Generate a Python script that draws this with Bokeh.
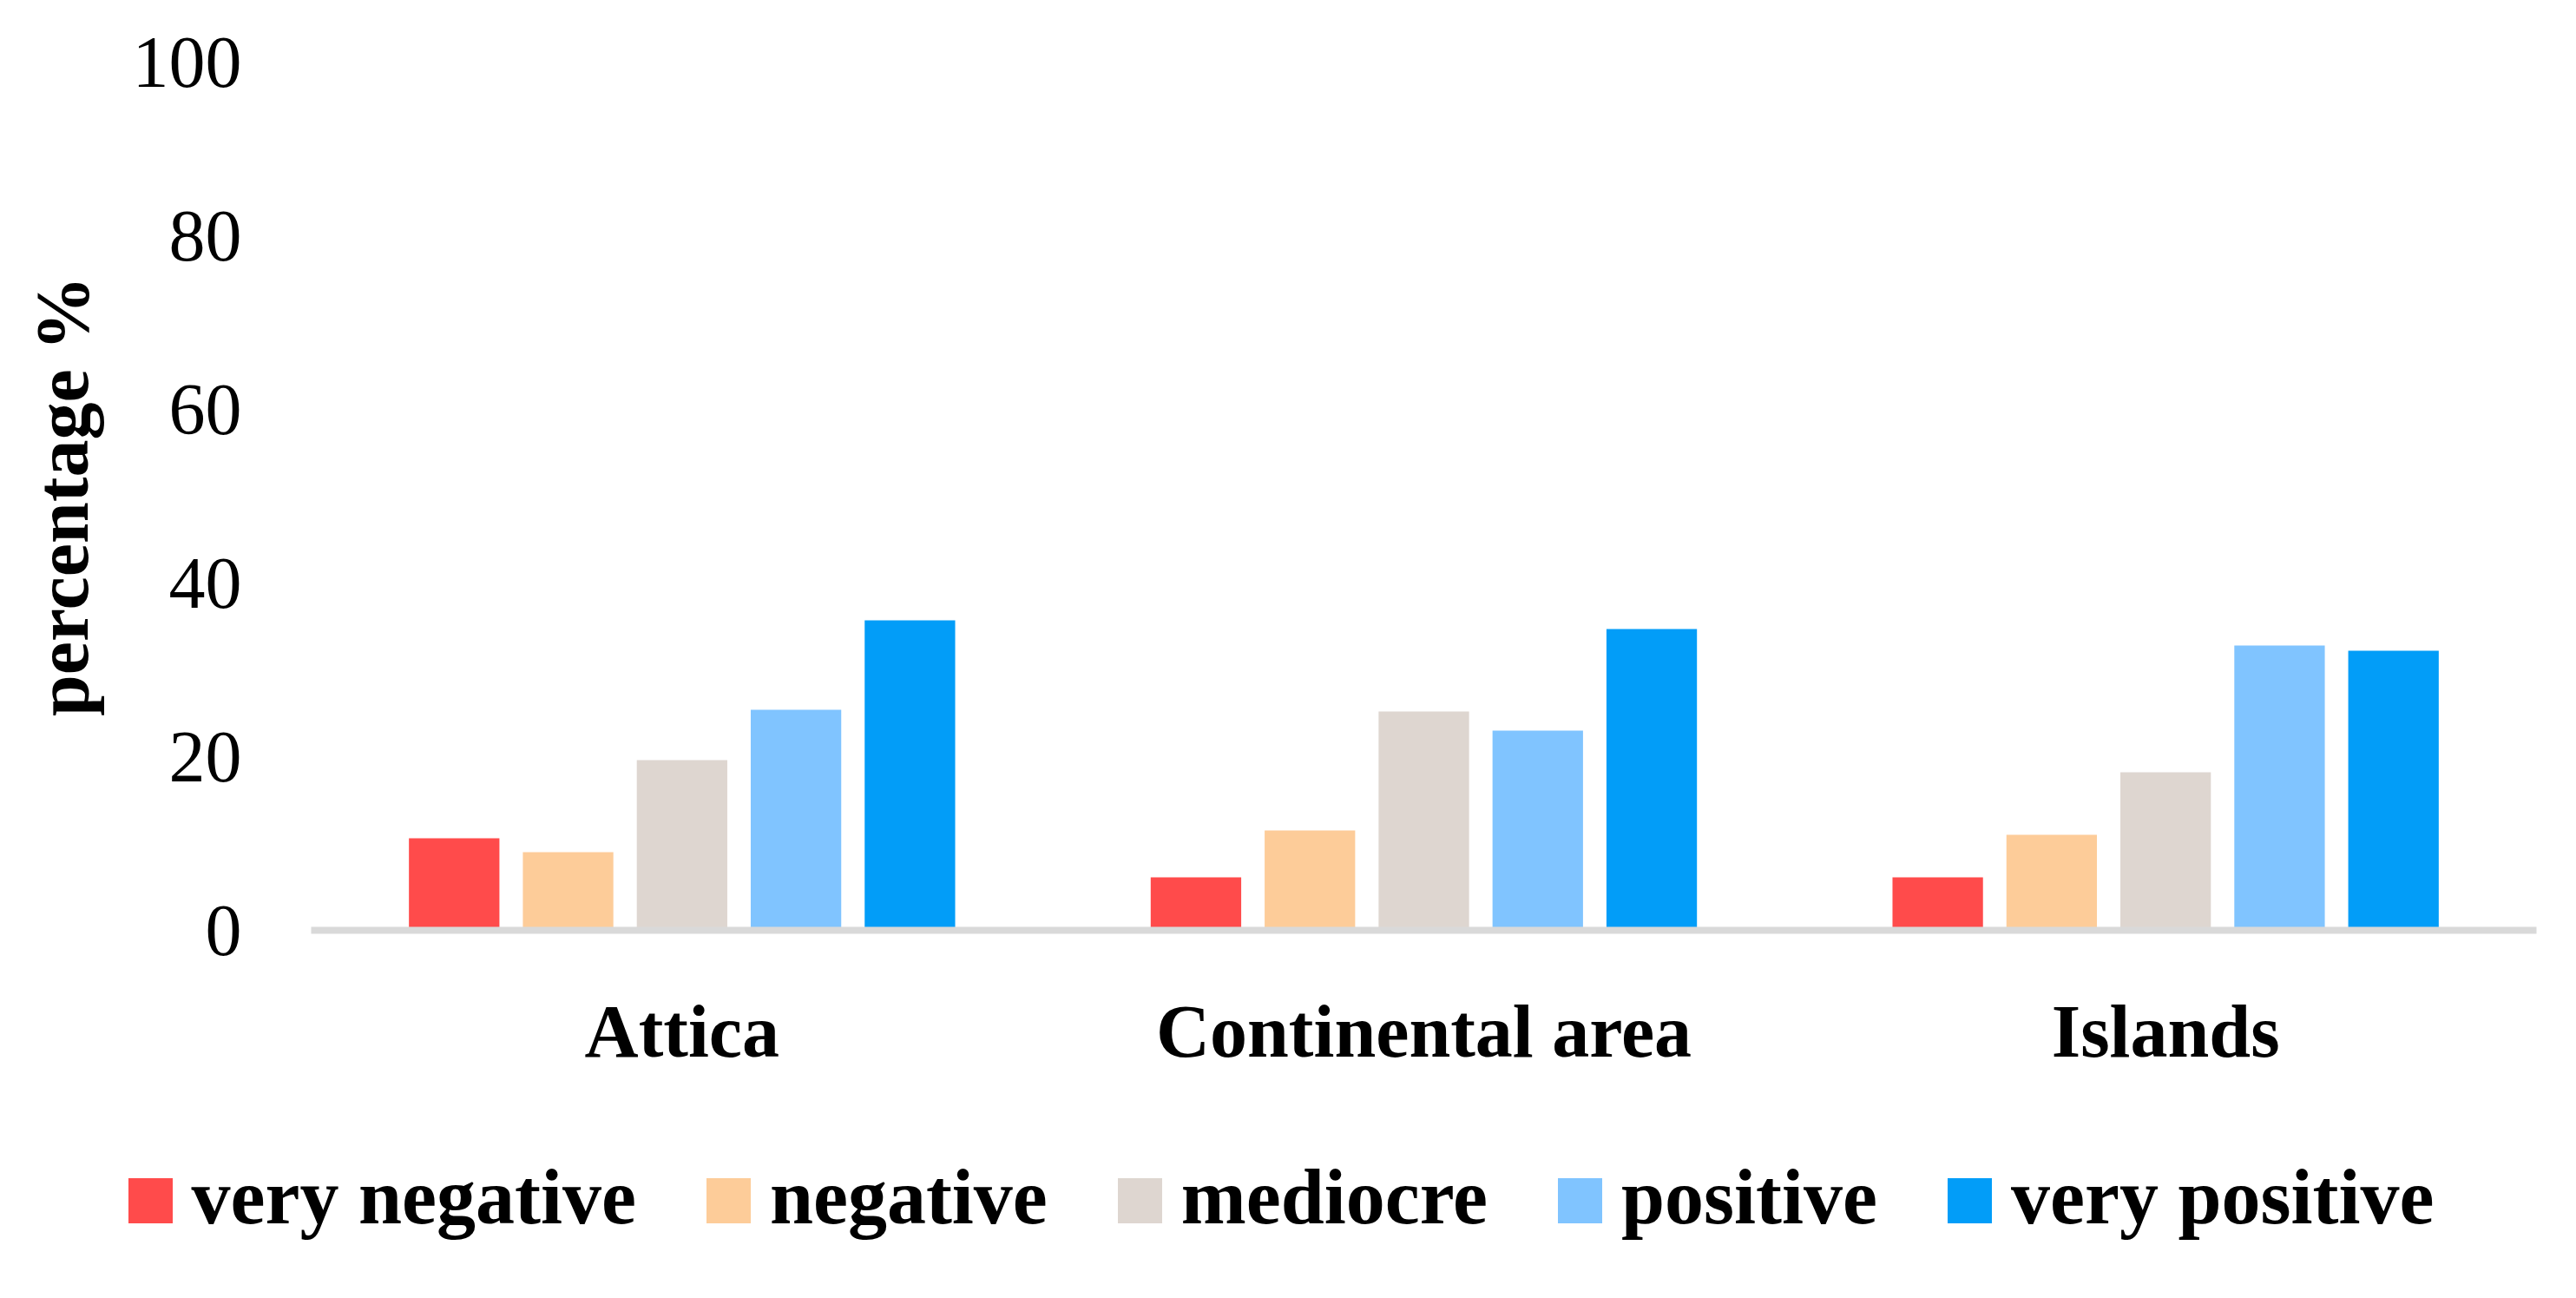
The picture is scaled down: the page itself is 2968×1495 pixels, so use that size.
from bokeh.plotting import figure
from bokeh.layouts import column
from bokeh.models import ColumnDataSource, Range1d, FactorRange, FixedTicker, Div
from bokeh.transform import dodge
from bokeh.embed import file_html
from bokeh.resources import INLINE

regions = ["Attica", "Continental area", "Islands"]
series_names = ["very negative", "negative", "mediocre", "positive", "very positive"]
very_negative = [10.6, 6.1, 6.1]
negative = [9.0, 11.5, 11.0]
mediocre = [19.6, 25.2, 18.2]
positive = [25.4, 23.0, 32.8]
very_positive = [35.7, 34.7, 32.2]
y_ticks = [0, 20, 40, 60, 80, 100]
colors = ["#FF4B4B", "#FDCC99", "#DED6D0", "#80C4FF", "#029DF8"]

keys = ["vneg", "neg", "med", "pos", "vpos"]
source = ColumnDataSource(dict(region=regions, vneg=very_negative, neg=negative,
                               med=mediocre, pos=positive, vpos=very_positive))

FONT = "Liberation Serif"
W = 2952
H_MAIN = 1290
H_LEG = 189

p = figure(x_range=FactorRange(*regions, range_padding=0), y_range=Range1d(0, 100),
           width=W, height=H_MAIN, output_backend="svg", toolbar_location=None,
           min_border_left=358, min_border_right=30, min_border_top=71, min_border_bottom=H_MAIN - 1071)

step = 0.1536
bw = 0.122
for i, k in enumerate(keys):
    p.vbar(x=dodge("region", (i - 2) * step, range=p.x_range), top=k, width=bw,
           source=source, fill_color=colors[i], line_color=None, legend_label=series_names[i])

p.legend.visible = False
p.xgrid.visible = False
p.ygrid.visible = False
p.outline_line_color = None
p.background_fill_color = "white"
p.border_fill_color = "white"

# x axis
p.xaxis.axis_line_color = "#D9D9D9"
p.xaxis.axis_line_width = 8
p.xaxis.major_tick_line_color = None
p.xaxis.minor_tick_line_color = None
p.xaxis.major_label_text_font = FONT
p.xaxis.major_label_text_font_style = "bold"
p.xaxis.major_label_text_font_size = "86px"
p.xaxis.major_label_text_color = "black"
p.xaxis.major_label_standoff = 62

# y axis
p.yaxis.ticker = FixedTicker(ticks=y_ticks)
p.yaxis.axis_line_color = None
p.yaxis.major_tick_line_color = None
p.yaxis.minor_tick_line_color = None
p.yaxis.major_label_text_font = FONT
p.yaxis.major_label_text_font_size = "84px"
p.yaxis.major_label_text_color = "black"
p.yaxis.major_label_standoff = 74
p.yaxis.axis_label = "percentage %"
p.yaxis.axis_label_text_font = FONT
p.yaxis.axis_label_text_font_style = "bold"
p.yaxis.axis_label_text_font_size = "86px"
p.yaxis.axis_label_text_color = "black"
p.yaxis.axis_label_standoff = 30

# legend strip below the chart (HTML text)
items_html = "".join(
    '<span style="white-space:nowrap;margin:0 {m}px 0 0;">'
    '<span style="display:inline-block;width:51px;height:52px;background:{c};'
    'vertical-align:baseline;margin-right:22px;"></span>{n}</span>'.format(
        c=c, n=n, m=(81 if i < len(series_names) - 1 else 0))
    for i, (n, c) in enumerate(zip(series_names, colors)))
legend_html = ('<div style="width:{w}px;height:{h}px;box-sizing:border-box;padding-top:44px;'
               'text-align:center;font-family:\'Liberation Serif\';font-weight:bold;'
               'font-size:90px;line-height:90px;color:black;white-space:nowrap;">{items}</div>').format(
    w=W, h=H_LEG, items=items_html)
leg = Div(text=legend_html, width=W, height=H_LEG, margin=0)

layout = column(p, leg, spacing=0)
open("out.html", "w").write(file_html(layout, INLINE))
